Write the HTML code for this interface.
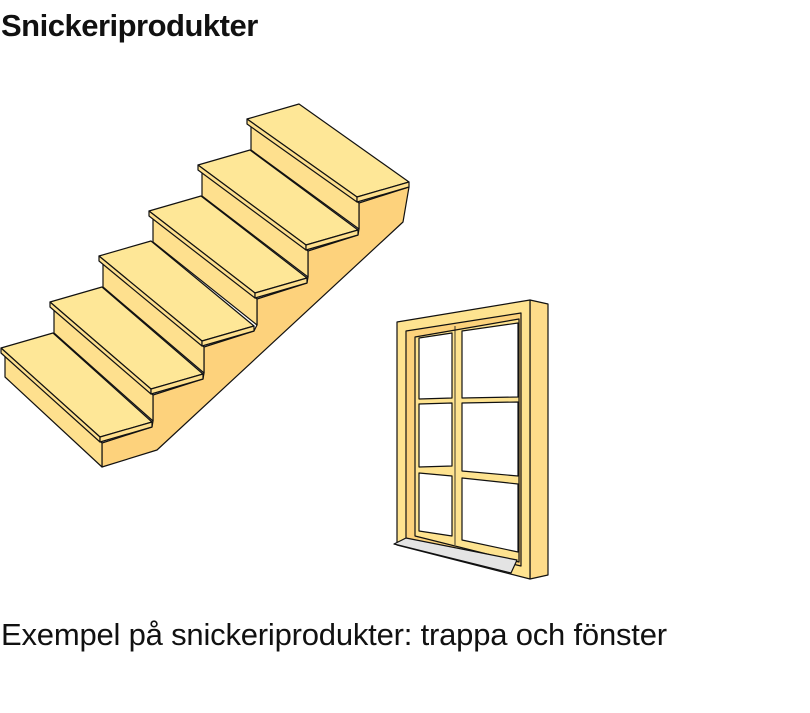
<!DOCTYPE html>
<html><head><meta charset="utf-8"><style>
html,body{margin:0;padding:0;background:#fff;width:810px;height:713px;overflow:hidden;position:relative;font-family:"Liberation Sans",sans-serif}
.t{position:absolute;left:1px;top:8px;font-size:31px;font-weight:bold;letter-spacing:-0.5px;color:#111}
.c{position:absolute;left:1px;top:617px;font-size:31px;color:#111;letter-spacing:-0.2px}
svg{position:absolute;left:0;top:0}
</style></head><body>
<div class="t">Snickeriprodukter</div>
<svg width="810" height="713" viewBox="0 0 810 713" stroke="#111" stroke-width="1.2" stroke-linejoin="round">
<polygon fill="#fdd27c" points="409,187 403,222 157,450 102,467 102,443 152,427 153,421 153,395 203,379 204,373 204,347 254,331 257,325 257,299 307,283 308,277 308,251 358,235 359,229 359,203"/>
<!-- step 5 -->
<polygon fill="#fee08e" points="251,124 359,203 359,229 251,150"/>
<polygon fill="#fee797" points="247,119 357,197 409,182 299,104"/>
<polygon fill="#fee08e" points="247,119 357,197 357,202 247,124"/>
<polygon fill="#fee08e" points="357,197 409,182 409,187 357,202"/>
<!-- step 4 -->
<polygon fill="#fee08e" points="202,170 308,251 308,277 202,196"/>
<polygon fill="#fee797" points="198,165 306,245 358,230 250,150"/>
<polygon fill="#fee08e" points="198,165 306,245 306,250 198,170"/>
<polygon fill="#fee08e" points="306,245 358,230 358,235 306,250"/>
<!-- step 3 -->
<polygon fill="#fee08e" points="153,216 257,299 257,325 153,242"/>
<polygon fill="#fee797" points="149,211 255,293 307,278 201,196"/>
<polygon fill="#fee08e" points="149,211 255,293 255,298 149,216"/>
<polygon fill="#fee08e" points="255,293 307,278 307,283 255,298"/>
<!-- step 2 -->
<polygon fill="#fee08e" points="103,261 204,347 204,373 103,287"/>
<polygon fill="#fee797" points="99,256 202,341 254,326 151,241"/>
<polygon fill="#fee08e" points="99,256 202,341 202,346 99,261"/>
<polygon fill="#fee08e" points="202,341 254,326 254,331 202,346"/>
<!-- step 1 -->
<polygon fill="#fee08e" points="54,307 153,395 153,421 54,333"/>
<polygon fill="#fee797" points="50,302 151,389 203,374 102,287"/>
<polygon fill="#fee08e" points="50,302 151,389 151,394 50,307"/>
<polygon fill="#fee08e" points="151,389 203,374 203,379 151,394"/>
<!-- step 0 -->
<polygon fill="#fee08e" points="5,353 102,443 102,467 5,377"/>
<polygon fill="#fee797" points="1,348 100,437 152,422 53,333"/>
<polygon fill="#fee08e" points="1,348 100,437 100,442 1,353"/>
<polygon fill="#fee08e" points="100,437 152,422 152,427 100,442"/>
<!-- window -->
<polygon fill="#fedc8a" points="530,300 548,304 548,575 530,579"/>
<polygon fill="#fee390" points="397,322 530,300 530,579 397,545"/>
<polygon fill="#fcd27c" points="406,331 521,313 521,566 406,539"/>
<polygon fill="#fee390" points="415,337 519,319 519,562 415,536"/>
<polygon fill="#fff" points="419,338 452,333 452,398 419,399"/>
<polygon fill="#fff" points="462,331 518,323 518,397 462,398"/>
<polygon fill="#fff" points="419,404 452,403 452,466 419,467"/>
<polygon fill="#fff" points="462,403 518,402 518,476 462,471"/>
<polygon fill="#fff" points="419,473 452,476 452,536 419,531"/>
<polygon fill="#fff" points="462,478 518,484 518,552 462,540"/>
<line x1="455" y1="326" x2="455" y2="545" stroke-width="0.8"/>
<polygon fill="#e4e4e4" points="394,544 406,538 517,560 511,573"/>
</svg>
<div class="c">Exempel på snickeriprodukter: trappa och fönster</div>
</body></html>
